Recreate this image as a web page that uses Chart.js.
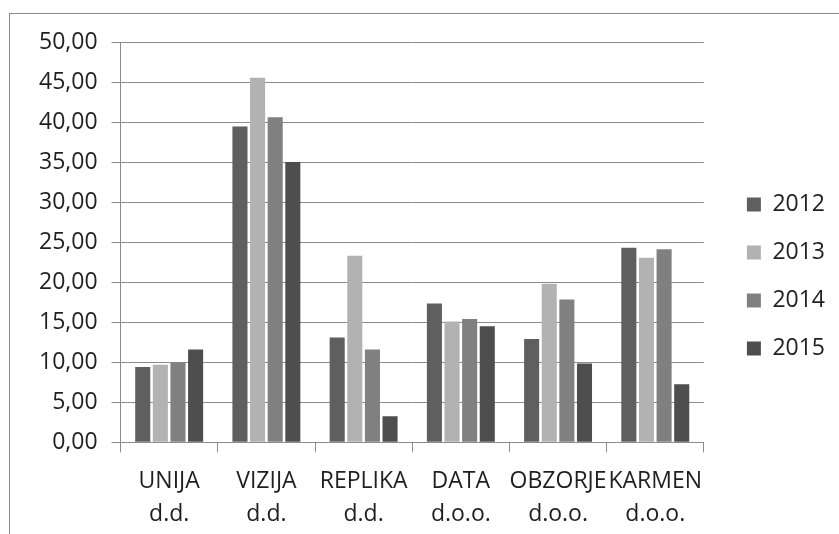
<!DOCTYPE html>
<html>
<head>
<meta charset="utf-8">
<script src="https://cdn.jsdelivr.net/npm/chart.js@4"></script>
<style>
  html, body { margin: 0; padding: 0; background: #fff; overflow: hidden; }
  #frame { position: absolute; left: 9px; top: 13px; width: 900px; height: 560px; border: 1px solid #8a8a8a; }
  #wrap { position: absolute; left: 0; top: 0; width: 825px; height: 520px; }
</style>
</head>
<body>
<div id="frame">
  <div id="wrap"><canvas id="chart"></canvas></div>
</div>
<script>
const firme = [["UNIJA", "d.d."], ["VIZIJA", "d.d."], ["REPLIKA", "d.d."], ["DATA", "d.o.o."], ["OBZORJE", "d.o.o."], ["KARMEN", "d.o.o."]];
const godine = ["2012", "2013", "2014", "2015"];
const v2012 = [9.4, 39.45, 13.1, 17.35, 12.9, 24.3];
const v2013 = [9.7, 45.55, 23.3, 15.1, 19.8, 23.05];
const v2014 = [10.0, 40.6, 11.6, 15.4, 17.85, 24.1];
const v2015 = [11.6, 35.0, 3.25, 14.5, 9.85, 7.25];
const boje = ["#5f5f5f", "#b2b2b2", "#808080", "#4e4e4e"];

const font = { family: "'Open Sans'", size: 23 };
const textColor = "#1f1f1f";
const gridColor = "#8c8c8c";

const ctx = document.getElementById("chart").getContext("2d");
new Chart(ctx, {
  type: "bar",
  data: {
    labels: firme,
    datasets: [v2012, v2013, v2014, v2015].map((d, i) => ({
      label: godine[i],
      data: d,
      backgroundColor: boje[i],
      borderWidth: 0,
      categoryPercentage: 0.725,
      barPercentage: 0.855,
    })),
  },
  options: {
    responsive: true,
    maintainAspectRatio: false,
    animation: false,
    layout: { padding: { top: 28, left: 15, bottom: -9, right: 0 } },
    plugins: {
      tooltip: { enabled: false },
      legend: {
        position: "right",
        align: "start",
        // empty title only pushes the legend items down
        title: { display: true, text: "", font: { size: 10, lineHeight: 1 }, padding: { top: 116, bottom: 0 } },
        labels: {
          boxWidth: 14,
          boxHeight: 14,
          padding: 25,
          color: textColor,
          font: font,
        },
      },
    },
    scales: {
      x: {
        grid: { drawOnChartArea: false, drawTicks: true, tickLength: 10, color: gridColor },
        border: { color: gridColor },
        ticks: {
          color: textColor,
          font: { family: "'Open Sans'", size: 23, lineHeight: 1.45 },
          maxRotation: 0,
          autoSkip: false,
          padding: 12,
        },
      },
      y: {
        min: 0,
        max: 50,
        grid: { color: gridColor, tickLength: 9 },
        border: { color: gridColor },
        ticks: {
          stepSize: 5,
          color: textColor,
          font: font,
          padding: 14,
          callback: (v) => v.toFixed(2).replace(".", ","),
        },
      },
      gap: {
        position: "right",
        display: true,
        grid: { display: false },
        border: { display: false },
        ticks: { display: false },
        afterFit: (s) => { s.width = 18; },
      },
    },
  },
});
</script>
</body>
</html>
